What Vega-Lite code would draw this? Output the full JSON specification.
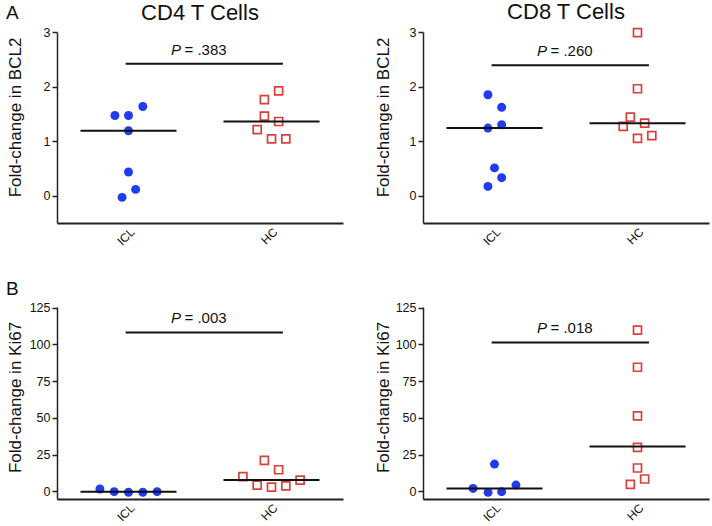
{
  "$schema": "https://vega.github.io/schema/vega-lite/v6.json",
  "padding": {"left": 5, "top": 1, "right": 3, "bottom": 0},
  "config": {
    "font": "Liberation Sans",
    "view": {"stroke": null},
    "axis": {"grid": false, "domainColor": "#222", "tickColor": "#222", "labelColor": "#111", "titleColor": "#111", "labelFont": "Liberation Sans", "titleFont": "Liberation Sans", "titleFontWeight": "normal", "labelFontSize": 12.5, "titleFontSize": 17, "domainWidth": 1.5, "tickWidth": 1.5, "tickSize": 5, "labelPadding": 2},
    "title": {"fontSize": 22, "fontWeight": "normal", "color": "#111", "font": "Liberation Sans", "offset": 1},
    "text": {"font": "Liberation Sans", "color": "#111"}
  },
  "datasets": {
    "rows": [
      {"panel": "cd4bcl2", "kind": "point", "group": "ICL", "x": 0.905, "y": 1.47},
      {"panel": "cd4bcl2", "kind": "point", "group": "ICL", "x": 1.0, "y": 1.47},
      {"panel": "cd4bcl2", "kind": "point", "group": "ICL", "x": 1.1, "y": 1.635},
      {"panel": "cd4bcl2", "kind": "point", "group": "ICL", "x": 1.0, "y": 1.19},
      {"panel": "cd4bcl2", "kind": "point", "group": "ICL", "x": 1.0, "y": 0.435},
      {"panel": "cd4bcl2", "kind": "point", "group": "ICL", "x": 1.05, "y": 0.116},
      {"panel": "cd4bcl2", "kind": "point", "group": "ICL", "x": 0.955, "y": -0.03},
      {"panel": "cd4bcl2", "kind": "point", "group": "HC", "x": 2.05, "y": 1.92},
      {"panel": "cd4bcl2", "kind": "point", "group": "HC", "x": 1.95, "y": 1.76},
      {"panel": "cd4bcl2", "kind": "point", "group": "HC", "x": 1.95, "y": 1.46},
      {"panel": "cd4bcl2", "kind": "point", "group": "HC", "x": 2.05, "y": 1.36},
      {"panel": "cd4bcl2", "kind": "point", "group": "HC", "x": 1.9, "y": 1.21},
      {"panel": "cd4bcl2", "kind": "point", "group": "HC", "x": 2.0, "y": 1.04},
      {"panel": "cd4bcl2", "kind": "point", "group": "HC", "x": 2.1, "y": 1.04},
      {"panel": "cd4bcl2", "kind": "median", "group": "ICL", "x": 1, "y": 1.19},
      {"panel": "cd4bcl2", "kind": "median", "group": "HC", "x": 2, "y": 1.36},
      {"panel": "cd4bcl2", "kind": "test", "x": 0.98, "x2": 2.08, "y": 2.42, "label": "= .383"},

      {"panel": "cd8bcl2", "kind": "point", "group": "ICL", "x": 0.954, "y": 1.85},
      {"panel": "cd8bcl2", "kind": "point", "group": "ICL", "x": 1.05, "y": 1.62},
      {"panel": "cd8bcl2", "kind": "point", "group": "ICL", "x": 0.954, "y": 1.24},
      {"panel": "cd8bcl2", "kind": "point", "group": "ICL", "x": 1.05, "y": 1.3},
      {"panel": "cd8bcl2", "kind": "point", "group": "ICL", "x": 1.0, "y": 0.51},
      {"panel": "cd8bcl2", "kind": "point", "group": "ICL", "x": 1.05, "y": 0.33},
      {"panel": "cd8bcl2", "kind": "point", "group": "ICL", "x": 0.954, "y": 0.17},
      {"panel": "cd8bcl2", "kind": "point", "group": "HC", "x": 2.0, "y": 2.99},
      {"panel": "cd8bcl2", "kind": "point", "group": "HC", "x": 2.0, "y": 1.96},
      {"panel": "cd8bcl2", "kind": "point", "group": "HC", "x": 1.95, "y": 1.44},
      {"panel": "cd8bcl2", "kind": "point", "group": "HC", "x": 2.05, "y": 1.33},
      {"panel": "cd8bcl2", "kind": "point", "group": "HC", "x": 1.9, "y": 1.27},
      {"panel": "cd8bcl2", "kind": "point", "group": "HC", "x": 2.0, "y": 1.05},
      {"panel": "cd8bcl2", "kind": "point", "group": "HC", "x": 2.1, "y": 1.1},
      {"panel": "cd8bcl2", "kind": "median", "group": "ICL", "x": 1, "y": 1.24},
      {"panel": "cd8bcl2", "kind": "median", "group": "HC", "x": 2, "y": 1.33},
      {"panel": "cd8bcl2", "kind": "test", "x": 0.98, "x2": 2.08, "y": 2.39, "label": "= .260"},

      {"panel": "cd4ki67", "kind": "point", "group": "ICL", "x": 0.8, "y": 1.6},
      {"panel": "cd4ki67", "kind": "point", "group": "ICL", "x": 0.9, "y": -0.2},
      {"panel": "cd4ki67", "kind": "point", "group": "ICL", "x": 1.0, "y": -0.6},
      {"panel": "cd4ki67", "kind": "point", "group": "ICL", "x": 1.1, "y": -0.6},
      {"panel": "cd4ki67", "kind": "point", "group": "ICL", "x": 1.2, "y": -0.2},
      {"panel": "cd4ki67", "kind": "point", "group": "HC", "x": 1.95, "y": 21.1},
      {"panel": "cd4ki67", "kind": "point", "group": "HC", "x": 2.05, "y": 14.7},
      {"panel": "cd4ki67", "kind": "point", "group": "HC", "x": 1.8, "y": 10.0},
      {"panel": "cd4ki67", "kind": "point", "group": "HC", "x": 2.2, "y": 7.7},
      {"panel": "cd4ki67", "kind": "point", "group": "HC", "x": 1.9, "y": 4.3},
      {"panel": "cd4ki67", "kind": "point", "group": "HC", "x": 2.0, "y": 2.9},
      {"panel": "cd4ki67", "kind": "point", "group": "HC", "x": 2.1, "y": 3.8},
      {"panel": "cd4ki67", "kind": "median", "group": "ICL", "x": 1, "y": -0.2},
      {"panel": "cd4ki67", "kind": "median", "group": "HC", "x": 2, "y": 7.7},
      {"panel": "cd4ki67", "kind": "test", "x": 0.98, "x2": 2.08, "y": 108.2, "label": "= .003"},

      {"panel": "cd8ki67", "kind": "point", "group": "ICL", "x": 0.85, "y": 2.0},
      {"panel": "cd8ki67", "kind": "point", "group": "ICL", "x": 0.955, "y": -0.7},
      {"panel": "cd8ki67", "kind": "point", "group": "ICL", "x": 1.05, "y": -0.2},
      {"panel": "cd8ki67", "kind": "point", "group": "ICL", "x": 1.0, "y": 18.6},
      {"panel": "cd8ki67", "kind": "point", "group": "ICL", "x": 1.15, "y": 4.3},
      {"panel": "cd8ki67", "kind": "point", "group": "HC", "x": 2.0, "y": 109.8},
      {"panel": "cd8ki67", "kind": "point", "group": "HC", "x": 2.0, "y": 84.5},
      {"panel": "cd8ki67", "kind": "point", "group": "HC", "x": 2.0, "y": 51.4},
      {"panel": "cd8ki67", "kind": "point", "group": "HC", "x": 2.0, "y": 29.9},
      {"panel": "cd8ki67", "kind": "point", "group": "HC", "x": 2.0, "y": 15.9},
      {"panel": "cd8ki67", "kind": "point", "group": "HC", "x": 2.05, "y": 8.4},
      {"panel": "cd8ki67", "kind": "point", "group": "HC", "x": 1.95, "y": 4.8},
      {"panel": "cd8ki67", "kind": "median", "group": "ICL", "x": 1, "y": 2.0},
      {"panel": "cd8ki67", "kind": "median", "group": "HC", "x": 2, "y": 30.6},
      {"panel": "cd8ki67", "kind": "test", "x": 0.98, "x2": 2.08, "y": 101.4, "label": "= .018"}
    ]
  },
  "spacing": 32,
  "vconcat": [
    {
      "title": {"text": "A", "anchor": "start", "frame": "bounds", "fontSize": 19, "offset": -22},
      "spacing": 31,
      "hconcat": [
        {
          "width": 286, "height": 191,
          "title": {"text": "CD4 T Cells"},
          "data": {"name": "rows"},
          "transform": [{"filter": "datum.panel == 'cd4bcl2'"}],
          "encoding": {
            "x": {"field": "x", "type": "quantitative", "scale": {"domain": [0.5, 2.5], "nice": false, "zero": false}, "axis": {"values": [1, 2], "labelExpr": "datum.value == 1 ? 'ICL' : 'HC'", "labelAngle": -45, "ticks": false, "title": null, "labelFontSize": 12, "labelPadding": 3, "domainWidth": 2}},
            "y": {"field": "y", "type": "quantitative", "scale": {"domain": [-0.5, 3], "nice": false, "zero": false}, "axis": {"values": [0, 1, 2, 3], "title": "Fold-change in BCL2", "titleX": -37, "titleY": 85, "titleBaseline": "alphabetic"}}
          },
          "layer": [
            {"transform": [{"filter": "datum.kind == 'point' && datum.group == 'ICL'"}], "mark": {"type": "point", "shape": "circle", "filled": true, "size": 80, "color": "#1f3cf0", "opacity": 1}},
            {"transform": [{"filter": "datum.kind == 'point' && datum.group == 'HC'"}], "mark": {"type": "point", "shape": "square", "filled": false, "size": 64, "color": "#d9403a", "strokeWidth": 1.7, "opacity": 1}},
            {"transform": [{"filter": "datum.kind == 'median'"}], "mark": {"type": "tick", "orient": "horizontal", "size": 96, "thickness": 2, "color": "#111", "opacity": 1}},
            {"transform": [{"filter": "datum.kind == 'test'"}], "mark": {"type": "rule", "strokeWidth": 2, "color": "#111"}, "encoding": {"x2": {"field": "x2"}}},
            {"transform": [{"filter": "datum.kind == 'test'"}], "mark": {"type": "text", "text": "P", "fontStyle": "italic", "fontSize": 15, "align": "right", "baseline": "alphabetic", "dx": -19, "dy": -9}, "encoding": {"x": {"datum": 1.5}}},
            {"transform": [{"filter": "datum.kind == 'test'"}], "mark": {"type": "text", "fontSize": 15, "align": "left", "baseline": "alphabetic", "dx": -15.5, "dy": -9}, "encoding": {"x": {"datum": 1.5}, "text": {"field": "label"}}}
          ]
        },
        {
          "width": 286, "height": 191,
          "title": {"text": "CD8 T Cells"},
          "data": {"name": "rows"},
          "transform": [{"filter": "datum.panel == 'cd8bcl2'"}],
          "encoding": {
            "x": {"field": "x", "type": "quantitative", "scale": {"domain": [0.5, 2.5], "nice": false, "zero": false}, "axis": {"values": [1, 2], "labelExpr": "datum.value == 1 ? 'ICL' : 'HC'", "labelAngle": -45, "ticks": false, "title": null, "labelFontSize": 12, "labelPadding": 3, "domainWidth": 2}},
            "y": {"field": "y", "type": "quantitative", "scale": {"domain": [-0.5, 3], "nice": false, "zero": false}, "axis": {"values": [0, 1, 2, 3], "title": "Fold-change in BCL2", "titleX": -35, "titleY": 85, "titleBaseline": "alphabetic"}}
          },
          "layer": [
            {"transform": [{"filter": "datum.kind == 'point' && datum.group == 'ICL'"}], "mark": {"type": "point", "shape": "circle", "filled": true, "size": 80, "color": "#1f3cf0", "opacity": 1}},
            {"transform": [{"filter": "datum.kind == 'point' && datum.group == 'HC'"}], "mark": {"type": "point", "shape": "square", "filled": false, "size": 64, "color": "#d9403a", "strokeWidth": 1.7, "opacity": 1}},
            {"transform": [{"filter": "datum.kind == 'median'"}], "mark": {"type": "tick", "orient": "horizontal", "size": 96, "thickness": 2, "color": "#111", "opacity": 1}},
            {"transform": [{"filter": "datum.kind == 'test'"}], "mark": {"type": "rule", "strokeWidth": 2, "color": "#111"}, "encoding": {"x2": {"field": "x2"}}},
            {"transform": [{"filter": "datum.kind == 'test'"}], "mark": {"type": "text", "text": "P", "fontStyle": "italic", "fontSize": 15, "align": "right", "baseline": "alphabetic", "dx": -19, "dy": -9}, "encoding": {"x": {"datum": 1.5}}},
            {"transform": [{"filter": "datum.kind == 'test'"}], "mark": {"type": "text", "fontSize": 15, "align": "left", "baseline": "alphabetic", "dx": -15.5, "dy": -9}, "encoding": {"x": {"datum": 1.5}, "text": {"field": "label"}}}
          ]
        }
      ]
    },
    {
      "title": {"text": "B", "anchor": "start", "frame": "bounds", "fontSize": 19, "offset": 3},
      "spacing": 31,
      "hconcat": [
        {
          "width": 286, "height": 192,
          "data": {"name": "rows"},
          "transform": [{"filter": "datum.panel == 'cd4ki67'"}],
          "encoding": {
            "x": {"field": "x", "type": "quantitative", "scale": {"domain": [0.5, 2.5], "nice": false, "zero": false}, "axis": {"values": [1, 2], "labelExpr": "datum.value == 1 ? 'ICL' : 'HC'", "labelAngle": -45, "ticks": false, "title": null, "labelFontSize": 12, "labelPadding": 3, "domainWidth": 2}},
            "y": {"field": "y", "type": "quantitative", "scale": {"domain": [-5.2, 125.5], "nice": false, "zero": false}, "axis": {"values": [0, 25, 50, 75, 100, 125], "title": "Fold-change in Ki67", "titleX": -37, "titleY": 90, "titleBaseline": "alphabetic"}}
          },
          "layer": [
            {"transform": [{"filter": "datum.kind == 'point' && datum.group == 'ICL'"}], "mark": {"type": "point", "shape": "circle", "filled": true, "size": 80, "color": "#1f3cf0", "opacity": 1}},
            {"transform": [{"filter": "datum.kind == 'point' && datum.group == 'HC'"}], "mark": {"type": "point", "shape": "square", "filled": false, "size": 64, "color": "#d9403a", "strokeWidth": 1.7, "opacity": 1}},
            {"transform": [{"filter": "datum.kind == 'median'"}], "mark": {"type": "tick", "orient": "horizontal", "size": 96, "thickness": 2, "color": "#111", "opacity": 1}},
            {"transform": [{"filter": "datum.kind == 'test'"}], "mark": {"type": "rule", "strokeWidth": 2, "color": "#111"}, "encoding": {"x2": {"field": "x2"}}},
            {"transform": [{"filter": "datum.kind == 'test'"}], "mark": {"type": "text", "text": "P", "fontStyle": "italic", "fontSize": 15, "align": "right", "baseline": "alphabetic", "dx": -19, "dy": -9}, "encoding": {"x": {"datum": 1.5}}},
            {"transform": [{"filter": "datum.kind == 'test'"}], "mark": {"type": "text", "fontSize": 15, "align": "left", "baseline": "alphabetic", "dx": -15.5, "dy": -9}, "encoding": {"x": {"datum": 1.5}, "text": {"field": "label"}}}
          ]
        },
        {
          "width": 286, "height": 192,
          "data": {"name": "rows"},
          "transform": [{"filter": "datum.panel == 'cd8ki67'"}],
          "encoding": {
            "x": {"field": "x", "type": "quantitative", "scale": {"domain": [0.5, 2.5], "nice": false, "zero": false}, "axis": {"values": [1, 2], "labelExpr": "datum.value == 1 ? 'ICL' : 'HC'", "labelAngle": -45, "ticks": false, "title": null, "labelFontSize": 12, "labelPadding": 3, "domainWidth": 2}},
            "y": {"field": "y", "type": "quantitative", "scale": {"domain": [-5.2, 125.5], "nice": false, "zero": false}, "axis": {"values": [0, 25, 50, 75, 100, 125], "title": "Fold-change in Ki67", "titleX": -35, "titleY": 90, "titleBaseline": "alphabetic"}}
          },
          "layer": [
            {"transform": [{"filter": "datum.kind == 'point' && datum.group == 'ICL'"}], "mark": {"type": "point", "shape": "circle", "filled": true, "size": 80, "color": "#1f3cf0", "opacity": 1}},
            {"transform": [{"filter": "datum.kind == 'point' && datum.group == 'HC'"}], "mark": {"type": "point", "shape": "square", "filled": false, "size": 64, "color": "#d9403a", "strokeWidth": 1.7, "opacity": 1}},
            {"transform": [{"filter": "datum.kind == 'median'"}], "mark": {"type": "tick", "orient": "horizontal", "size": 96, "thickness": 2, "color": "#111", "opacity": 1}},
            {"transform": [{"filter": "datum.kind == 'test'"}], "mark": {"type": "rule", "strokeWidth": 2, "color": "#111"}, "encoding": {"x2": {"field": "x2"}}},
            {"transform": [{"filter": "datum.kind == 'test'"}], "mark": {"type": "text", "text": "P", "fontStyle": "italic", "fontSize": 15, "align": "right", "baseline": "alphabetic", "dx": -19, "dy": -9}, "encoding": {"x": {"datum": 1.5}}},
            {"transform": [{"filter": "datum.kind == 'test'"}], "mark": {"type": "text", "fontSize": 15, "align": "left", "baseline": "alphabetic", "dx": -15.5, "dy": -9}, "encoding": {"x": {"datum": 1.5}, "text": {"field": "label"}}}
          ]
        }
      ]
    }
  ]
}
